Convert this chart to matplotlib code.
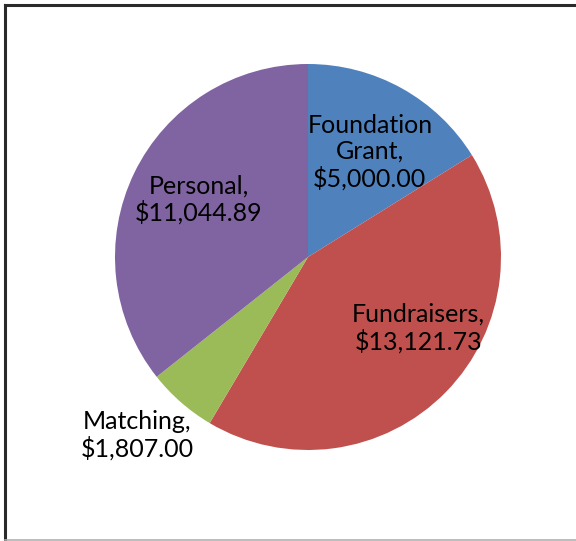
import matplotlib

matplotlib.use("Agg")
import matplotlib.pyplot as plt  # noqa: E402
import numpy as np  # noqa: E402
from matplotlib.lines import Line2D  # noqa: E402

categories = ["Foundation\nGrant", "Fundraisers", "Matching", "Personal"]
amounts = [5000.00, 13121.73, 1807.00, 11044.89]
colors = ["#4F81BD", "#C0504D", "#9BBB59", "#8064A2"]

# label placement as (distance in radii, angle in degrees) from pie centre
label_pos = [(0.63, 59.4), (0.68, -32.8), (1.28, -133.7), (0.64, 152.4)]

W, H = 576, 541
fig = plt.figure(figsize=(W / 100, H / 100), dpi=100)
fig.patch.set_facecolor("white")

# pie centre ~ (308, 257) px, radius ~193 px
cx, cy, r = 308, 257, 193
ax = fig.add_axes([(cx - r) / W, (H - cy - r) / H, 2 * r / W, 2 * r / H])
ax.pie(amounts, colors=colors, startangle=90, counterclock=False, radius=1,
       wedgeprops=dict(linewidth=0))
ax.set_xlim(-1, 1)
ax.set_ylim(-1, 1)
ax.set_aspect("equal")
ax.axis("off")

for name, val, (d, ang) in zip(categories, amounts, label_pos):
    a = np.deg2rad(ang)
    ax.text(d * np.cos(a), d * np.sin(a), f"{name},\n${val:,.2f}",
            ha="center", va="center", fontsize=18, family="Lato",
            color="black", linespacing=1.15, clip_on=False)

# chart frame: dark top/left edge, light bottom edge
fig.add_artist(Line2D([5 / W, 1], [1 - 5 / H, 1 - 5 / H], color="#2a2a2a",
                      linewidth=2.2, transform=fig.transFigure))
fig.add_artist(Line2D([5 / W, 5 / W], [1 - 5 / H, 1.5 / H], color="#2a2a2a",
                      linewidth=2.2, transform=fig.transFigure))
fig.add_artist(Line2D([5 / W, 1], [1.5 / H, 1.5 / H], color="#b0b0b0",
                      linewidth=1.2, transform=fig.transFigure))

fig.savefig("out.png", dpi=100)
